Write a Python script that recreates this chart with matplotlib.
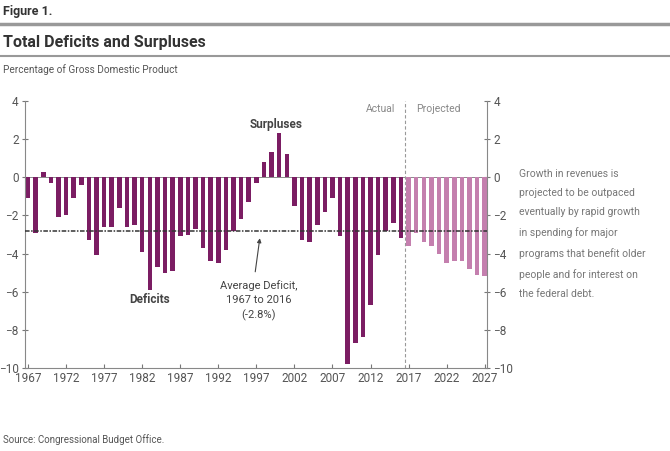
import numpy as np
import matplotlib
matplotlib.use("Agg")
import matplotlib.pyplot as plt

plt.rcParams['font.family'] = ['Roboto', 'DejaVu Sans']

# データ（GDP比 %）
years_actual = list(range(1967, 2017))
deficit_actual = [-1.1, -2.9, 0.3, -0.3, -2.1, -2.0, -1.1, -0.4, -3.3, -4.1,
                  -2.6, -2.6, -1.6, -2.6, -2.5, -3.9, -5.9, -4.7, -5.0, -4.9,
                  -3.1, -3.0, -2.7, -3.7, -4.4, -4.5, -3.8, -2.8, -2.2, -1.3,
                  -0.3, 0.8, 1.3, 2.3, 1.2, -1.5, -3.3, -3.4, -2.5, -1.8,
                  -1.1, -3.1, -9.8, -8.7, -8.4, -6.7, -4.1, -2.8, -2.4, -3.2]
years_proj = list(range(2017, 2028))
deficit_proj = [-3.6, -2.9, -3.4, -3.6, -4.0, -4.5, -4.4, -4.4, -4.8, -5.1, -5.2]
avg_deficit = -2.8
xtick_years = list(range(1967, 2028, 5))
yticks = [4, 2, 0, -2, -4, -6, -8, -10]

dark = '#7b1d63'
light = '#c47fae'
gray = '#555555'

fig = plt.figure(figsize=(6.7, 4.51), dpi=100)
ax = fig.add_axes([25/670, 1-368/451, (487-25)/670, (368-101)/451])

ax.bar(years_actual, deficit_actual, width=0.6, color=dark, zorder=2)
ax.bar(years_proj, deficit_proj, width=0.6, color=light, zorder=2)

ax.axhline(0, color='#777777', lw=0.6, zorder=1)
ax.axhline(avg_deficit, color='#333333', lw=1.1, ls=(0, (3, 1, 1, 1)), zorder=3)
ax.axvline(2016.5, color='#999999', lw=0.8, ls=(0, (3, 2)), zorder=1)

ax.set_xlim(1966.6, 2027.3)
ax.set_ylim(-10, 4)
ax.set_xticks(xtick_years)
ax.set_yticks(yticks)
ax.tick_params(axis='x', direction='in', length=3, color='#777777', labelsize=8.5,
               labelcolor=gray, pad=3)
ax.tick_params(axis='y', direction='inout', length=5, color='#777777', labelsize=8.5,
               labelcolor=gray, right=True, labelright=True, pad=2)
ax.spines['top'].set_visible(False)
for s in ['left', 'right', 'bottom']:
    ax.spines[s].set_color('#888888')
    ax.spines[s].set_linewidth(0.8)

ax.text(2013.3, 3.6, 'Actual', ha='center', va='center', fontsize=7.5, color='#888888')
ax.text(2020.9, 3.6, 'Projected', ha='center', va='center', fontsize=7.5, color='#888888')
ax.text(1999.6, 2.75, 'Surpluses', ha='center', va='center', fontsize=8.5,
        fontweight='bold', color='#444444')
ax.text(1983.0, -6.4, 'Deficits', ha='center', va='center', fontsize=8.5,
        fontweight='bold', color='#444444')
ax.text(1997.3, -6.45, 'Average Deficit,\n1967 to 2016\n(-2.8%)', ha='center', va='center',
        fontsize=8, color='#444444', linespacing=1.5)
ax.annotate('', xy=(1997.5, -3.05), xytext=(1996.8, -5.1),
            arrowprops=dict(arrowstyle='-|>', color='#444444', lw=0.8, mutation_scale=6))

# 見出し
fig.text(3/670, 1-11/451, 'Figure 1.', fontsize=9, fontweight='bold', color='#333333', va='center')
fig.add_artist(plt.Line2D([0, 1], [1-24/451, 1-24/451], color='#999999', lw=2.5))
fig.text(3/670, 1-43/451, 'Total Deficits and Surpluses', fontsize=11.5, fontweight='bold',
         color='#333333', va='center')
fig.add_artist(plt.Line2D([0, 1], [1-56/451, 1-56/451], color='#999999', lw=1.5))
fig.text(3/670, 1-70/451, 'Percentage of Gross Domestic Product', fontsize=7.2,
         color='#555555', va='center')

fig.text(519/670, 1-169/451,
         'Growth in revenues is\nprojected to be outpaced\neventually by rapid growth\n'
         'in spending for major\nprograms that benefit older\npeople and for interest on\n'
         'the federal debt.', fontsize=7.5, color='#777777', va='top', linespacing=2.12)

fig.text(3/670, 1-440/451, 'Source: Congressional Budget Office.', fontsize=7,
         color='#555555', va='center')

fig.savefig('out.png', dpi=100)
